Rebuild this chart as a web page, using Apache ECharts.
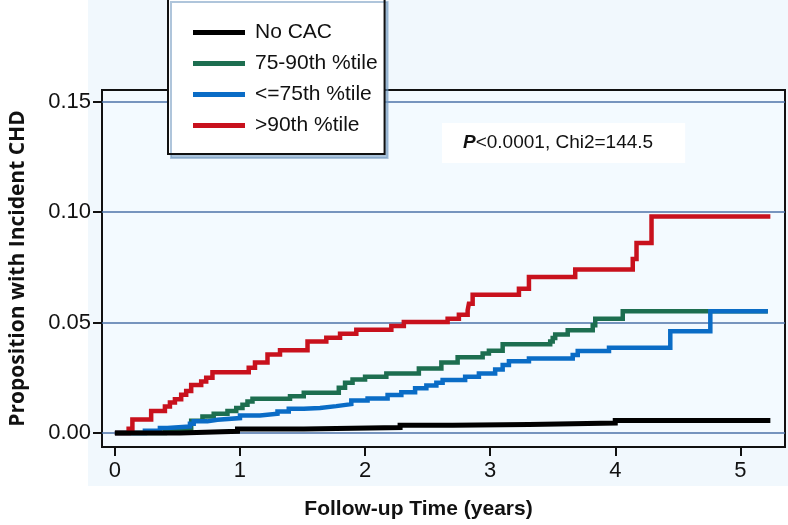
<!DOCTYPE html>
<html><head><meta charset="utf-8">
<script src="https://cdn.jsdelivr.net/npm/echarts@6.0.0/dist/echarts.min.js"></script>
<style>html,body{margin:0;padding:0;background:#fff}#c{width:788px;height:525px}</style>
</head><body><div id="c"></div>
<script>
const seriesNames = ['No CAC', '75-90th %tile', '<=75th %tile', '>90th %tile'];
const seriesColors = ['#000000', '#1d6e50', '#0a6cc6', '#c8111d'];
const xTicks = [0, 1, 2, 3, 4, 5];
const yTicks = [0, 0.05, 0.10, 0.15];

const noCacT = [0, 0.52, 0.98, 1.51, 2.28, 2.70, 3.31, 4.00, 5.24];
const noCacV = [0, 0.0008, 0.0018, 0.0025, 0.0035, 0.0039, 0.0046, 0.0057, 0.0057];

const p7590T = [0, 0.40, 0.61, 0.70, 0.79, 0.90, 0.97, 1.02, 1.06, 1.10, 1.40, 1.51, 1.79, 1.84, 1.90, 2.00, 2.17, 2.43, 2.61, 2.74, 2.94, 2.99, 3.10, 3.48, 3.50, 3.52, 3.62, 3.82, 3.84, 4.06, 5.22];
const p7590V = [0, 0.0015, 0.0056, 0.0075, 0.0088, 0.0100, 0.0113, 0.0128, 0.0143, 0.0155, 0.0167, 0.0183, 0.0205, 0.0228, 0.0242, 0.0255, 0.0270, 0.0292, 0.0320, 0.0343, 0.0360, 0.0373, 0.0402, 0.0415, 0.0430, 0.0446, 0.0466, 0.0488, 0.0518, 0.0551, 0.0551];

const p75T = [0, 0.24, 0.36, 0.42, 0.60, 0.63, 0.74, 0.82, 1.00, 1.16, 1.30, 1.39, 1.51, 1.64, 1.77, 1.89, 2.02, 2.18, 2.29, 2.40, 2.49, 2.57, 2.62, 2.80, 2.91, 3.04, 3.10, 3.15, 3.31, 3.66, 3.70, 3.95, 4.44, 4.76, 5.22];
const p75V = [0, 0.0010, 0.0023, 0.0030, 0.0042, 0.0053, 0.0060, 0.0068, 0.0080, 0.0088, 0.0098, 0.0110, 0.0114, 0.0122, 0.0131, 0.0147, 0.0157, 0.0172, 0.0185, 0.0203, 0.0215, 0.0228, 0.0240, 0.0255, 0.0270, 0.0288, 0.0308, 0.0325, 0.0338, 0.0353, 0.0372, 0.0386, 0.0461, 0.0551, 0.0551];

const p90T = [0, 0.11, 0.14, 0.29, 0.40, 0.44, 0.48, 0.53, 0.57, 0.61, 0.69, 0.73, 0.78, 1.07, 1.12, 1.22, 1.32, 1.54, 1.69, 1.80, 1.93, 2.21, 2.31, 2.66, 2.75, 2.82, 2.83, 2.86, 3.23, 3.31, 3.68, 4.14, 4.17, 4.29, 5.24];
const p90V = [0, 0.0020, 0.0062, 0.0100, 0.0120, 0.0138, 0.0153, 0.0173, 0.0190, 0.0218, 0.0233, 0.0251, 0.0275, 0.0296, 0.0320, 0.0356, 0.0375, 0.0415, 0.0432, 0.0450, 0.0468, 0.0485, 0.0503, 0.0518, 0.0536, 0.0556, 0.0586, 0.0626, 0.0653, 0.0706, 0.0740, 0.0788, 0.0860, 0.0980, 0.0980];

const pairs = (t, v) => t.map((x, i) => [x, v[i]]);
const seriesData = [pairs(noCacT, noCacV), pairs(p7590T, p7590V), pairs(p75T, p75V), pairs(p90T, p90V)];
const drawOrder = [1, 2, 3, 0];

const chart = echarts.init(document.getElementById('c'), null, {renderer: 'canvas'});
const FONT = 'Liberation Sans';
chart.setOption({
  backgroundColor: '#ffffff',
  animation: false,
  graphic: [
    {type: 'rect', z: -10, silent: true, shape: {x: 88, y: 0, width: 700, height: 486}, style: {fill: '#f1f8fd'}},
    {type: 'text', z: 50, left: 442, top: 123,
     style: {text: '{b|P}<0.0001, Chi2=144.5', font: '19px "Liberation Sans"', fill: '#111',
       backgroundColor: '#ffffff', padding: [10, 32, 11, 21],
       rich: {b: {fontStyle: 'italic', fontWeight: 'bold', fontSize: 19, fontFamily: FONT, fill: '#111'}}}}
  ],
  grid: {left: 97, top: 90, width: 688, height: 359, show: true, backgroundColor: '#f3faff', borderColor: '#111', borderWidth: 2, containLabel: false},
  legend: {
    data: seriesNames, left: 168, top: -2, orient: 'vertical', icon: 'rect',
    itemWidth: 52, itemHeight: 5, itemGap: 10,
    padding: [24, 7, 18, 25], backgroundColor: '#ffffff', borderColor: '#111', borderWidth: 2,
    shadowColor: 'rgba(110,150,190,0.55)', shadowOffsetX: 3, shadowOffsetY: 4, shadowBlur: 0,
    textStyle: {fontFamily: FONT, fontSize: 21, color: '#111', padding: [0, 0, 0, 5]},
    selectedMode: false
  },
  xAxis: {
    type: 'value', min: -0.103, max: 5.357,
    axisLine: {show: false, onZero: false},
    axisTick: {show: true, length: 9, lineStyle: {color: '#111', width: 2}, customValues: xTicks},
    axisLabel: {customValues: xTicks, fontFamily: FONT, fontSize: 22, color: '#111', margin: 13, formatter: v => String(v)},
    splitLine: {show: false},
    name: 'Follow-up Time (years)', nameLocation: 'middle', nameGap: 52,
    nameTextStyle: {fontFamily: FONT, fontWeight: 'bold', fontSize: 21, color: '#111', padding: [0, 50, 0, 0]}
  },
  yAxis: {
    type: 'value', min: -0.0063, max: 0.1553,
    axisLine: {show: false, onZero: false},
    axisTick: {show: true, length: 9, lineStyle: {color: '#111', width: 2}, customValues: yTicks},
    axisLabel: {customValues: yTicks, fontFamily: FONT, fontSize: 22, color: '#111', margin: 11, formatter: v => v.toFixed(2)},
    splitLine: {show: true, lineStyle: {color: '#4d72a8', width: 1.5}},
    name: 'Proposition with Incident CHD', nameLocation: 'middle', nameGap: 73,
    nameTextStyle: {fontFamily: 'Open Sans', fontWeight: 'bold', fontSize: 21, color: '#111'}
  },
  series: drawOrder.map((k, j) => ({
    name: seriesNames[k], type: 'line', step: 'end', data: seriesData[k],
    showSymbol: false, symbol: 'none', z: 3 + j, silent: true,
    lineStyle: {color: seriesColors[k], width: k === 0 ? 5 : 4.5, cap: 'butt', join: 'miter'},
    itemStyle: {color: seriesColors[k]}
  }))
});
</script></body></html>
